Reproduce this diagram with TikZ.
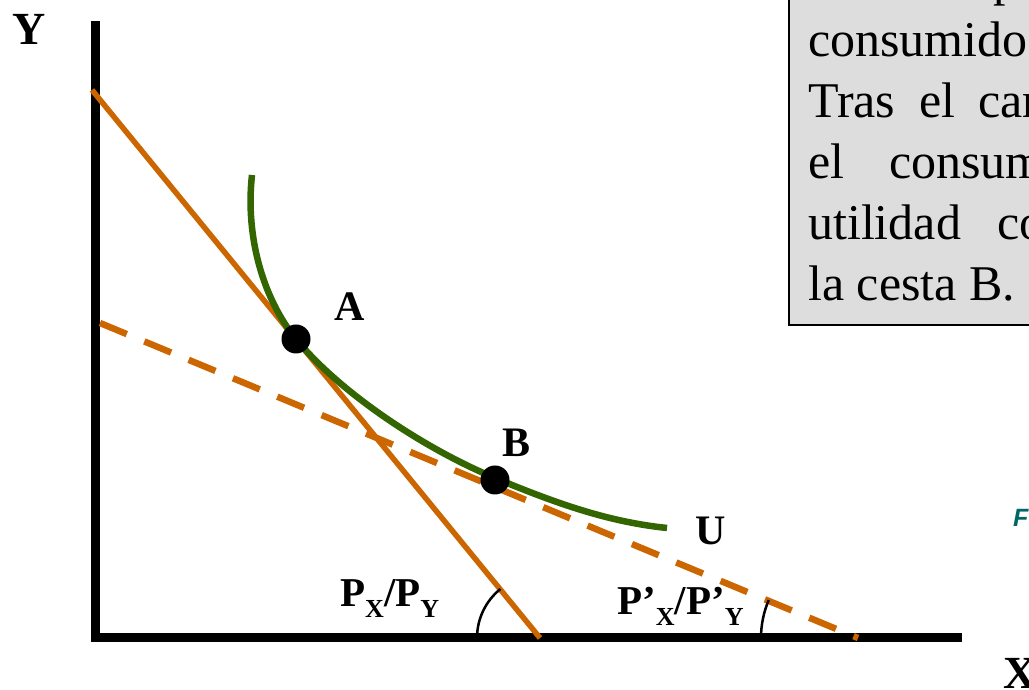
\documentclass[tikz,border=0pt]{standalone}
\usepackage{fontspec}
\setmainfont{Liberation Serif}
\newfontfamily\labelsans{Liberation Sans}
\definecolor{budgetorange}{RGB}{204,102,0}
\definecolor{indiffgreen}{RGB}{51,102,0}
\definecolor{boxgray}{RGB}{221,221,221}
\definecolor{fteal}{RGB}{0,102,102}
\newcommand{\psub}[1]{\raisebox{-11pt}{\fontsize{26}{26}\selectfont #1}}
\begin{document}
\begin{tikzpicture}[x=1pt, y=1pt,
    axis/.style={line width=9pt},
    budget/.style={draw=budgetorange, line width=5.5pt},
    newbudget/.style={budget, line width=6.5pt, dash pattern=on 29pt off 19pt},
    indiff/.style={draw=indiffgreen, line width=6.5pt},
    bundle/.style={circle, fill=black, minimum size=29pt, inner sep=0pt},
    lbl/.style={font=\fontsize{42}{42}\selectfont\bfseries, inner sep=0pt, anchor=base west},
    boxline/.style={font=\fontsize{50}{61}\selectfont, inner sep=0pt, anchor=base west},
    anglearc/.style={line width=2.5pt}]
    \clip (0,0) rectangle (1029,690);

    % Axes
    \coordinate (ytop) at (95,669);
    \coordinate (ybot) at (95,47.5);
    \coordinate (xleft) at (91,52);
    \coordinate (xright) at (962,52);
    \draw[axis] (ytop) -- (ybot);
    \draw[axis] (xleft) -- (xright);
    \node[lbl, font=\fontsize{46}{46}\selectfont\bfseries] (Ylab) at (12,645) {Y};
    \node[lbl, font=\fontsize{46}{46}\selectfont\bfseries] (Xlab) at (1003,1) {X};

    % Budget lines
    \coordinate (oldtop) at (92,600);
    \coordinate (oldfoot) at (540,52);
    \coordinate (newtop) at (100,367);
    \coordinate (newfoot) at (858,52);
    \draw[budget] (oldtop) -- (oldfoot);
    \draw[newbudget] (newtop) -- (newfoot);

    % Indifference curve
    \coordinate (ustart) at (252,515);
    \coordinate (uend) at (667,162);
    \draw[indiff] (ustart) .. controls (245,452) and (264,390) .. (296,351)
        .. controls (340,297) and (425,241) .. (495,212)
        .. controls (560,185) and (610,168) .. (uend);

    % Bundles
    \node[bundle] (A) at (296,351) {};
    \node[bundle] (B) at (495,210) {};
    \node[lbl] (Alab) at (334,369) {A};
    \node[lbl] (Blab) at (502,233) {B};
    \node[lbl] (Ulab) at (695,145) {U};

    % Slopes
    \draw[anglearc] ([shift={(129:63)}]oldfoot) arc[start angle=129, end angle=180, radius=63];
    \draw[anglearc] ([shift={(157:97)}]newfoot) arc[start angle=157, end angle=180, radius=97];
    \node[lbl, font=\fontsize{41}{41}\selectfont\bfseries] (oldslope) at (340,83) {P\psub{X}/P\psub{Y}};
    \node[lbl, font=\fontsize{41}{41}\selectfont\bfseries] (newslope) at (617,75) {P’\psub{X}/P’\psub{Y}};

    % Text box
    \draw[fill=boxgray, line width=2pt] (789,365) rectangle (1045,700);
    \node[boxline] (line0) at (993,694) {p};
    \node[boxline] (line1) at (808,633) {consumido};
    \node[boxline] (line2) at (808,572) {Tras\hspace{24pt}el\hspace{23pt}cam};
    \node[boxline] (line3) at (808,511) {el\hspace{45pt}consumi};
    \node[boxline] (line4) at (808,450) {utilidad\hspace{36pt}con};
    \node[boxline] (line5) at (808,389) {la cesta B.};

    \node[font=\labelsans\bfseries\itshape\fontsize{25}{25}\selectfont, text=fteal, anchor=base west, inner sep=0pt] (figlab) at (1013,163) {F};
\end{tikzpicture}
\end{document}
